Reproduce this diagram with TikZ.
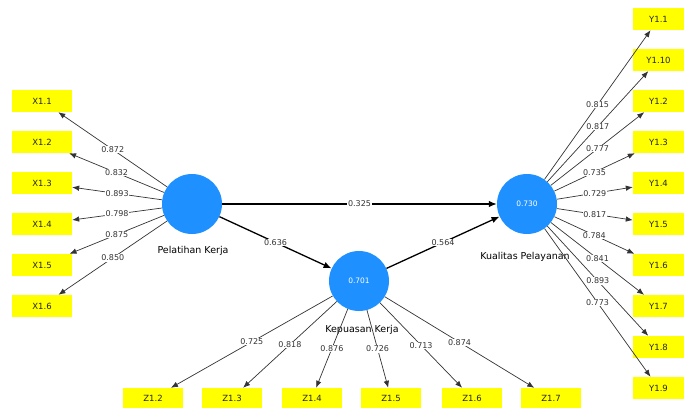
\documentclass[tikz,border=0pt]{standalone}
\usepackage{fontspec}
\setmainfont{DejaVu Sans}
\usetikzlibrary{arrows.meta}
\definecolor{latentblue}{RGB}{30,144,255}
\definecolor{itemyellow}{RGB}{255,255,0}
\tikzset{
  latent/.style={circle,fill=latentblue,minimum size=60pt,inner sep=0pt,text=white,font=\fontsize{7.5}{8}\selectfont},
  indicator/.style={rectangle,fill=itemyellow,minimum width=60pt,minimum height=22pt,inner sep=0pt,text=black!85,font=\fontsize{8.5}{9}\selectfont},
  loading/.style={-{Latex[length=7pt,width=5.5pt]},black!80,line width=0.7pt},
  structpath/.style={-{Latex[length=8pt,width=6.5pt]},black,line width=1.3pt},
  coef/.style={fill=white,inner sep=0.6pt,text=black!80,font=\fontsize{8}{9}\selectfont},
  lvname/.style={text=black,font=\fontsize{9.5}{10}\selectfont},
}
\begin{document}
\begin{tikzpicture}[x=1pt,y=-1pt]
  \useasboundingbox (0,0) rectangle (684,407);
  % Latent variables
  \node[latent] (PK) at (192,204) {};
  \node[latent] (KK) at (359,281) {0.701};
  \node[latent] (KP) at (527,204) {0.730};
  \node[lvname] (PKname) at (193,251) {Pelatihan Kerja};
  \node[lvname] (KKname) at (362,330) {Kepuasan Kerja};
  \node[lvname] (KPname) at (525,257) {Kualitas Pelayanan};
  % Pelatihan Kerja indicators
  \node[indicator] (X11) at (42,101) {X1.1};
  \node[indicator] (X12) at (42,142) {X1.2};
  \node[indicator] (X13) at (42,183) {X1.3};
  \node[indicator] (X14) at (42,224) {X1.4};
  \node[indicator] (X15) at (42,265) {X1.5};
  \node[indicator] (X16) at (42,306) {X1.6};
  \draw[loading] (PK) -- node[coef] {0.872} (X11);
  \draw[loading] (PK) -- node[coef] {0.832} (X12);
  \draw[loading] (PK) -- node[coef] {0.893} (X13);
  \draw[loading] (PK) -- node[coef] {0.798} (X14);
  \draw[loading] (PK) -- node[coef] {0.875} (X15);
  \draw[loading] (PK) -- node[coef] {0.850} (X16);
  % Kualitas Pelayanan indicators
  \node[indicator,minimum width=51pt] (Y11) at (658.5,19) {Y1.1};
  \node[indicator,minimum width=51pt] (Y110) at (658.5,60) {Y1.10};
  \node[indicator,minimum width=51pt] (Y12) at (658.5,101) {Y1.2};
  \node[indicator,minimum width=51pt] (Y13) at (658.5,142) {Y1.3};
  \node[indicator,minimum width=51pt] (Y14) at (658.5,183) {Y1.4};
  \node[indicator,minimum width=51pt] (Y15) at (658.5,224) {Y1.5};
  \node[indicator,minimum width=51pt] (Y16) at (658.5,265) {Y1.6};
  \node[indicator,minimum width=51pt] (Y17) at (658.5,306) {Y1.7};
  \node[indicator,minimum width=51pt] (Y18) at (658.5,347) {Y1.8};
  \node[indicator,minimum width=51pt] (Y19) at (658.5,388) {Y1.9};
  \draw[loading] (KP) -- node[coef] {0.815} (Y11);
  \draw[loading] (KP) -- node[coef] {0.817} (Y110);
  \draw[loading] (KP) -- node[coef] {0.777} (Y12);
  \draw[loading] (KP) -- node[coef] {0.735} (Y13);
  \draw[loading] (KP) -- node[coef] {0.729} (Y14);
  \draw[loading] (KP) -- node[coef] {0.817} (Y15);
  \draw[loading] (KP) -- node[coef] {0.784} (Y16);
  \draw[loading] (KP) -- node[coef] {0.841} (Y17);
  \draw[loading] (KP) -- node[coef] {0.893} (Y18);
  \draw[loading] (KP) -- node[coef] {0.773} (Y19);
  % Kepuasan Kerja indicators
  \node[indicator,minimum height=20pt] (Z12) at (153,398) {Z1.2};
  \node[indicator,minimum height=20pt] (Z13) at (232,398) {Z1.3};
  \node[indicator,minimum height=20pt] (Z14) at (312,398) {Z1.4};
  \node[indicator,minimum height=20pt] (Z15) at (391,398) {Z1.5};
  \node[indicator,minimum height=20pt] (Z16) at (472,398) {Z1.6};
  \node[indicator,minimum height=20pt] (Z17) at (551,398) {Z1.7};
  \draw[loading] (KK) -- node[coef] {0.725} (Z12);
  \draw[loading] (KK) -- node[coef] {0.818} (Z13);
  \draw[loading] (KK) -- node[coef] {0.876} (Z14);
  \draw[loading] (KK) -- node[coef] {0.726} (Z15);
  \draw[loading] (KK) -- node[coef] {0.713} (Z16);
  \draw[loading] (KK) -- node[coef] {0.874} (Z17);
  % Structural paths
  \draw[structpath] (PK) -- node[coef] {0.325} (KP);
  \draw[structpath] (PK) -- node[coef] {0.636} (KK);
  \draw[structpath] (KK) -- node[coef] {0.564} (KP);
\end{tikzpicture}
\end{document}
